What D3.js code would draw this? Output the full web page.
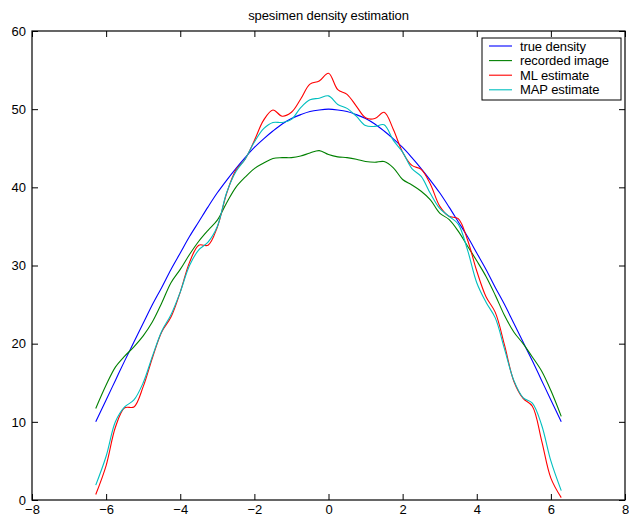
<!DOCTYPE html>
<html>
<head>
<meta charset="utf-8">
<script src="https://cdn.jsdelivr.net/npm/d3@7"></script>
<style>
  body { margin: 0; background: #fff; }
  text { font-family: "Liberation Sans", Arial, sans-serif; }
</style>
</head>
<body>
<svg id="chart" width="629" height="525"></svg>
<script>
// values
const xs = [-6.28, -6, -5.75, -5.5, -5.25, -5, -4.75, -4.5, -4.25, -4, -3.75, -3.5, -3.25, -3,
  -2.75, -2.5, -2.25, -2, -1.75, -1.5, -1.25, -1, -0.75, -0.5, -0.25, 0,
  0.25, 0.5, 0.75, 1, 1.25, 1.5, 1.75, 2, 2.25, 2.5, 2.75, 3, 3.25, 3.5, 3.75,
  4, 4.25, 4.5, 4.75, 5, 5.25, 5.5, 5.75, 6, 6.28];

const trueDensity = [10.0, 12.8, 15.3, 17.8, 20.2, 22.6, 25.0, 27.2, 29.5, 31.6, 33.7, 35.6, 37.5, 39.3,
  40.9, 42.4, 43.8, 45.1, 46.2, 47.2, 48.1, 48.8, 49.3, 49.7, 49.9, 50.0,
  49.9, 49.7, 49.3, 48.8, 48.1, 47.2, 46.2, 45.1, 43.8, 42.4, 40.9, 39.3, 37.5, 35.6, 33.7,
  31.6, 29.5, 27.2, 25.0, 22.6, 20.2, 17.8, 15.3, 12.8, 10.0];

const recorded = [11.7, 14.7, 17.0, 18.4, 19.6, 21.0, 22.8, 25.2, 27.8, 29.5, 31.4, 33.1, 34.5, 35.8,
  38.0, 40.0, 41.3, 42.4, 43.1, 43.7, 43.8, 43.8, 44.0, 44.4, 44.7, 44.2,
  43.9, 43.8, 43.6, 43.3, 43.2, 43.3, 42.5, 41.0, 40.3, 39.5, 38.4, 36.7, 35.9, 34.4, 32.5,
  30.6, 28.6, 26.2, 23.6, 21.5, 20.0, 18.3, 16.5, 14.0, 10.7];

const mlEstimate = [0.7, 4.4, 9.3, 11.8, 11.9, 14.5, 18.2, 21.5, 23.4, 26.6, 30.4, 32.6, 32.6, 34.9,
  39.2, 42.2, 43.6, 46.0, 48.6, 49.9, 49.1, 49.6, 51.3, 53.2, 53.6, 54.6,
  52.5, 51.9, 50.4, 48.9, 48.8, 49.6, 47.4, 44.5, 42.8, 42.3, 40.4, 37.6, 36.3, 36.0, 33.3,
  29.3, 26.0, 24.0, 19.8, 15.2, 13.0, 12.0, 7.6, 2.8, 0.3];

const mapEstimate = [1.9, 5.6, 10.0, 11.9, 12.8, 15.0, 18.4, 21.6, 23.7, 26.6, 30.0, 32.0, 33.0, 35.0,
  39.3, 42.0, 43.6, 45.8, 47.5, 48.3, 48.3, 48.7, 50.2, 51.2, 51.4, 51.7,
  50.6, 50.1, 49.1, 47.9, 47.8, 48.0, 46.0, 44.5, 42.4, 41.4, 39.2, 37.3, 36.3, 35.3, 32.0,
  27.8, 25.3, 23.3, 19.3, 15.3, 13.1, 12.4, 9.6, 5.0, 1.2];

const seriesNames = ["true density", "recorded image", "ML estimate", "MAP estimate"];
const seriesColors = ["#0000ff", "#008000", "#ff0000", "#00bfbf"];
const seriesValues = [trueDensity, recorded, mlEstimate, mapEstimate];

const xTicks = [-8, -6, -4, -2, 0, 2, 4, 6, 8];
const yTicks = [0, 10, 20, 30, 40, 50, 60];
const titleText = "spesimen density estimation";

const margin = { top: 31, right: 4, bottom: 25, left: 32 };
const svg = d3.select("#chart");
const width = 629 - margin.left - margin.right;
const height = 525 - margin.top - margin.bottom;

const x = d3.scaleLinear().domain([-8, 8]).range([0, width]);
const y = d3.scaleLinear().domain([0, 60]).range([height, 0]);

const g = svg.append("g")
  .attr("transform", "translate(" + margin.left + "," + margin.top + ")");

// curves
const line = d3.line()
  .x((d) => x(d[0]))
  .y((d) => y(d[1]))
  .curve(d3.curveCatmullRom.alpha(0.5));

seriesValues.forEach((vals, i) => {
  g.append("path")
    .datum(xs.map((xv, j) => [xv, vals[j]]))
    .attr("fill", "none")
    .attr("stroke", seriesColors[i])
    .attr("stroke-width", 1.1)
    .attr("d", line);
});

// box with inward ticks on all sides (matlab style)
const tickLen = 6;
function styleAxis(sel) {
  sel.select(".domain").remove();
  sel.selectAll(".tick line").attr("stroke", "#000").attr("stroke-width", 1);
  sel.selectAll(".tick text")
    .style("font-size", "13px")
    .attr("fill", "#000");
}

g.append("g")
  .attr("transform", "translate(0," + height + ")")
  .call(d3.axisBottom(x).tickValues(xTicks).tickSizeInner(-tickLen).tickPadding(5).tickFormat(d3.format("d")))
  .call(styleAxis);

g.append("g")
  .call(d3.axisTop(x).tickValues(xTicks).tickSizeInner(-tickLen).tickFormat(""))
  .call(styleAxis);

g.append("g")
  .call(d3.axisLeft(y).tickValues(yTicks).tickSizeInner(-tickLen).tickPadding(6).tickFormat(d3.format("d")))
  .call(styleAxis);

g.append("g")
  .attr("transform", "translate(" + width + ",0)")
  .call(d3.axisRight(y).tickValues(yTicks).tickSizeInner(-tickLen).tickFormat(""))
  .call(styleAxis);

g.append("rect")
  .attr("width", width)
  .attr("height", height)
  .attr("fill", "none")
  .attr("stroke", "#000")
  .attr("stroke-width", 1.2);

// title
svg.append("text")
  .attr("x", margin.left + width / 2)
  .attr("y", 20)
  .attr("text-anchor", "middle")
  .style("font-size", "13px")
  .style("letter-spacing", "-0.1px")
  .text(titleText);

// legend
const legend = svg.append("g").attr("transform", "translate(482,38)");
legend.append("rect")
  .attr("width", 139)
  .attr("height", 62)
  .attr("fill", "#fff")
  .attr("stroke", "#000")
  .attr("stroke-width", 1);

seriesNames.forEach((name, i) => {
  const row = legend.append("g").attr("transform", "translate(0," + (8 + i * 14.6) + ")");
  row.append("line")
    .attr("x1", 7).attr("x2", 30)
    .attr("stroke", seriesColors[i])
    .attr("stroke-width", 1.1);
  row.append("text")
    .attr("x", 38)
    .attr("dy", "0.35em")
    .style("font-size", "13px")
    .style("letter-spacing", "-0.1px")
    .text(name);
});
</script>
</body>
</html>
